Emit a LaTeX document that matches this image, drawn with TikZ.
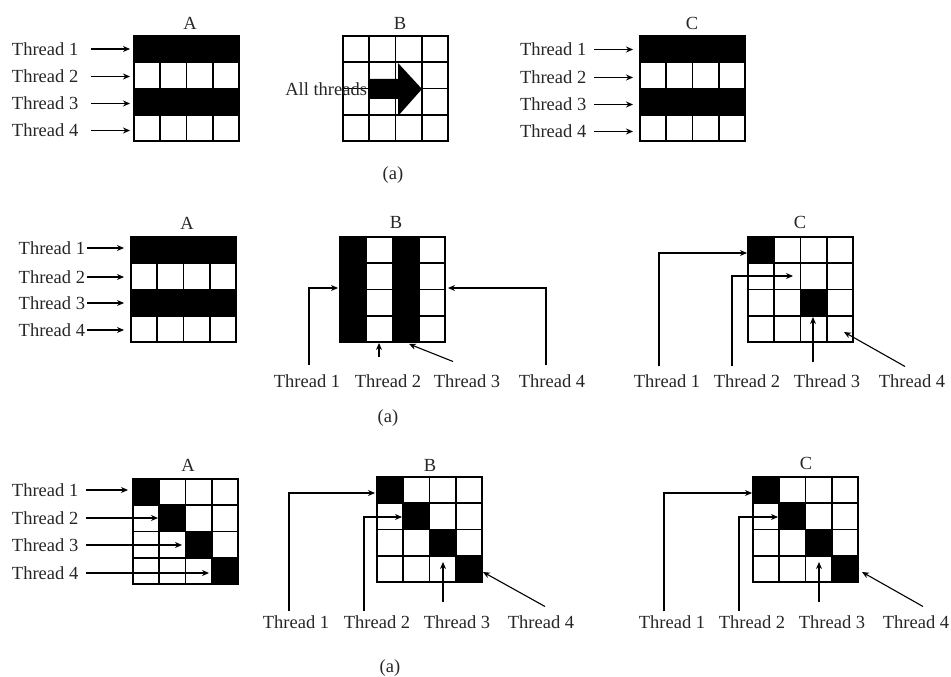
\documentclass[tikz,border=0pt]{standalone}
\usepackage{fontspec}
\setmainfont{Liberation Serif}
\usetikzlibrary{arrows.meta,calc}

\tikzset{
  lab/.style={inner sep=0pt, outer sep=0pt, text=black!85,
              font=\fontsize{18.5}{22}\selectfont},
  head/.style={lab},
  gridframe/.style={draw, line width=1.6pt, minimum size=105pt,
                    inner sep=0pt, outer sep=0pt},
  gridline/.style={line width=1.6pt},
  arr/.style={draw, line width=1.1pt, -{Stealth[length=7pt,width=6pt]}},
}

% 4x4 grid of cells, 105pt wide, left edge #2, top edge #3
\newcommand\cellgrid[3]{%
  \node[gridframe] (#1) at ({#2+52.5},{#3+52.5}) {};
  \foreach \k in {1,2,3}{%
    \draw[gridline] ({#2+26.25*\k},{#3}) -- ++(0,105);
    \draw[gridline] ({#2},{#3+26.25*\k}) -- ++(105,0);
  }%
}
% filled cells r/c of a grid with left edge #1, top edge #2
\newcommand\blackcells[3]{%
  \foreach \r/\c in {#3}{%
    \fill ({#1+26.25*\c-26.25},{#2+26.25*\r-26.25}) rectangle ++(26.25,26.25);
  }%
}

\begin{document}
\begin{tikzpicture}[x=1pt,y=-1pt]
\useasboundingbox (0,0) rectangle (951,677);

% ---------------- first row ----------------
\blackcells{134}{36}{1/1,1/2,1/3,1/4,3/1,3/2,3/3,3/4}
\cellgrid{gA1}{134}{36}
\node[head] (hA1) at (190,23) {A};
\foreach \i/\y in {1/49,2/76.5,3/103.5,4/130.5}{%
  \node[lab,anchor=west] (ta\i) at (12,\y) {Thread \i};
  \coordinate (ea\i) at (130,\y);
  \draw[arr] ([xshift=13pt]ta\i.east) -- (ea\i);
}

\cellgrid{gB1}{343}{36}
\node[head] (hB1) at (400,23) {B};
\fill (370,79) -- (398,79) -- (398,63) -- (422,89) -- (398,116)
      -- (398,99) -- (370,99) -- cycle;
\node[lab,anchor=east] (all) at (367,89) {All threads};

\blackcells{640}{36}{1/1,1/2,1/3,1/4,3/1,3/2,3/3,3/4}
\cellgrid{gC1}{640}{36}
\node[head] (hC1) at (692,23) {C};
\foreach \i/\y in {1/49.5,2/77.5,3/104.5,4/131.5}{%
  \node[lab,anchor=west] (tc\i) at (520,\y) {Thread \i};
  \coordinate (ec\i) at (633,\y);
  \draw[arr] ([xshift=8pt]tc\i.east) -- (ec\i);
}
\node[lab] (capa) at (393,175) {(a)};

% ---------------- second row ----------------
\blackcells{131}{237}{1/1,1/2,1/3,1/4,3/1,3/2,3/3,3/4}
\cellgrid{gA2}{131}{237}
\node[head] (hA2) at (187,223) {A};
\foreach \i/\y in {1/248,2/277,3/303,4/330}{%
  \node[lab,anchor=east] (ma\i) at (85,\y) {Thread \i};
  \coordinate (fa\i) at (124,\y);
  \draw[arr] ([xshift=2pt]ma\i.east) -- (fa\i);
}

\blackcells{340}{237}{1/1,2/1,3/1,4/1,1/3,2/3,3/3,4/3}
\cellgrid{gB2}{340}{237}
\node[head] (hB2) at (396,222) {B};
\node[lab] (mb1) at (307,381) {Thread 1};
\node[lab] (mb2) at (388,381) {Thread 2};
\node[lab] (mb3) at (467,381) {Thread 3};
\node[lab] (mb4) at (552,381) {Thread 4};
\coordinate (fb1) at (338,288);
\coordinate (fb2) at (379,343);
\coordinate (fb3) at (409,344);
\coordinate (fb4) at (448,288);
\draw[arr] ($(mb1.north)+(2,-9)$) |- (fb1);
\draw[arr] ($(mb2.north)+(-9,-17)$) -- (fb2);
\draw[arr] ($(mb3.north)+(-14,-13)$) -- (fb3);
\draw[arr] ($(mb4.north)+(-6,-9)$) |- (fb4);

\blackcells{748}{237}{1/1,3/3}
\cellgrid{gC2}{748}{237}
\node[head] (hC2) at (800,222) {C};
\node[lab] (mc1) at (667,381) {Thread 1};
\node[lab] (mc2) at (747,381) {Thread 2};
\node[lab] (mc3) at (827,381) {Thread 3};
\node[lab] (mc4) at (912,381) {Thread 4};
\coordinate (fc1) at (747,253);
\coordinate (fc2) at (793,276);
\coordinate (fc3) at (813,317);
\coordinate (fc4) at (844,332);
\draw[arr] ($(mc1.north)+(-8,-8)$) |- (fc1);
\draw[arr] ($(mc2.north)+(-15,-8)$) |- (fc2);
\draw[arr] ($(mc3.north)+(-14,-12)$) -- (fc3);
\draw[arr] ($(mc4.north)+(-7,-8)$) -- (fc4);
\node[lab] (capb) at (388,418) {(a)};

% ---------------- third row ----------------
\blackcells{133}{479}{1/1,2/2,3/3,4/4}
\cellgrid{gA3}{133}{479}
\node[head] (hA3) at (188,465) {A};
\foreach \i/\y/\e in {1/490/128,2/518/158,3/545/182,4/573/209}{%
  \node[lab,anchor=west] (ba\i) at (12,\y) {Thread \i};
  \coordinate (ga\i) at (\e,\y);
  \draw[arr] ([xshift=8pt]ba\i.east) -- (ga\i);
}

\blackcells{377}{477}{1/1,2/2,3/3,4/4}
\cellgrid{gB3}{377}{477}
\node[head] (hB3) at (430,465) {B};
\node[lab] (bb1) at (296,622) {Thread 1};
\node[lab] (bb2) at (377,622) {Thread 2};
\node[lab] (bb3) at (457,622) {Thread 3};
\node[lab] (bb4) at (541,622) {Thread 4};
\coordinate (gb1) at (375,493);
\coordinate (gb2) at (402,517);
\coordinate (gb3) at (443,562);
\coordinate (gb4) at (483,572);
\draw[arr] ($(bb1.north)+(-7,-4)$) |- (gb1);
\draw[arr] ($(bb2.north)+(-13,-4)$) |- (gb2);
\draw[arr] ($(bb3.north)+(-14,-13)$) -- (gb3);
\draw[arr] ($(bb4.north)+(4,-9)$) -- (gb4);

\blackcells{753}{477}{1/1,2/2,3/3,4/4}
\cellgrid{gC3}{753}{477}
\node[head] (hC3) at (806,463) {C};
\node[lab] (bc1) at (672,622) {Thread 1};
\node[lab] (bc2) at (752,622) {Thread 2};
\node[lab] (bc3) at (832,622) {Thread 3};
\node[lab] (bc4) at (916,622) {Thread 4};
\coordinate (gc1) at (752,493);
\coordinate (gc2) at (778,517);
\coordinate (gc3) at (819,562);
\coordinate (gc4) at (862,572);
\draw[arr] ($(bc1.north)+(-8,-4)$) |- (gc1);
\draw[arr] ($(bc2.north)+(-13,-4)$) |- (gc2);
\draw[arr] ($(bc3.north)+(-13,-13)$) -- (gc3);
\draw[arr] ($(bc4.north)+(7,-9)$) -- (gc4);
\node[lab] (capc) at (390,668) {(a)};
\end{tikzpicture}
\end{document}
